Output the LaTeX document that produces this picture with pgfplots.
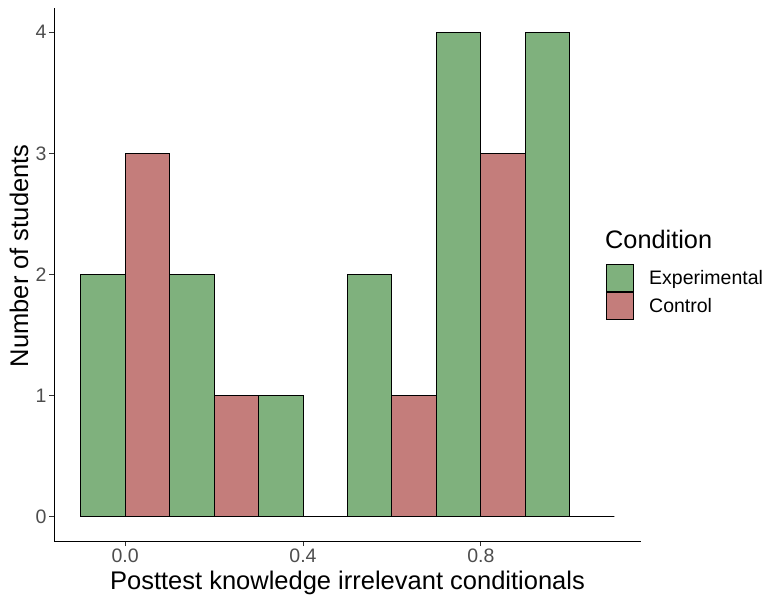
\documentclass[border=0pt]{standalone}
\usepackage{fontspec}
\setmainfont{Liberation Sans}
\usepackage{pgfplots}
\pgfplotsset{compat=1.18}
\definecolor{expgreen}{HTML}{7FB17D}
\definecolor{ctrlred}{HTML}{C47D7B}
\definecolor{ticktext}{HTML}{4D4D4D}
\definecolor{tickmark}{HTML}{333333}
\begin{document}
\begin{tikzpicture}
\useasboundingbox (0,0) rectangle (768pt,598pt);
\begin{axis}[
  at={(54pt,57pt)}, anchor=south west,
  scale only axis, width=587pt, height=533pt,
  xmin=-0.16, xmax=1.16, ymin=-0.2, ymax=4.2,
  axis x line*=bottom, axis y line*=left,
  axis line style={line width=1pt, black, -},
  xtick={0,0.4,0.8}, xticklabels={0.0,0.4,0.8},
  ytick={0,1,2,3,4},
  tick align=outside, major tick length=5pt,
  tick style={tickmark, line width=1pt},
  /pgf/number format/assume math mode=true,
  ticklabel style={font=\fontsize{19.5}{22}\selectfont, text=ticktext},
  xticklabel style={yshift=1pt},
  yticklabel style={xshift=1pt},
  xlabel={Posttest knowledge irrelevant conditionals},
  ylabel={Number of students},
  label style={font=\fontsize{25.5}{28}\selectfont},
  xlabel style={at={(axis description cs:0.5,-0.0795)}, anchor=center},
  ylabel style={at={(axis description cs:-0.0596,0.535)}, anchor=center},
  clip=false,
  legend style={at={(rel axis cs:0.9404,0.52)}, anchor=north west, draw=none, fill=none,
    font=\fontsize{19.5}{22}\selectfont, row sep=0pt, inner sep=0pt,
    cells={anchor=west}},
  legend image code/.code={\draw[#1,draw=black,line width=1pt] (0pt,-13.5pt) rectangle (27pt,13.5pt);},
  legend cell align=left,
]
\addplot[ybar, bar width=0.1, bar shift=0pt, fill=expgreen, draw=black, line width=1pt]
  coordinates {(-0.05,2) (0.15,2) (0.35,1) (0.55,2) (0.75,4) (0.95,4)};
\addlegendentry{\hspace{13pt}Experimental}
\addplot[ybar, bar width=0.1, bar shift=0pt, fill=ctrlred, draw=black, line width=1pt]
  coordinates {(0.05,3) (0.25,1) (0.45,0) (0.65,1) (0.85,3) (1.05,0)};
\addlegendentry{\hspace{13pt}Control}
\node[anchor=west, inner sep=0pt, font=\fontsize{25.3}{28}\selectfont] at (rel axis cs:0.9387,0.565) {Condition};
\end{axis}
\end{tikzpicture}
\end{document}
